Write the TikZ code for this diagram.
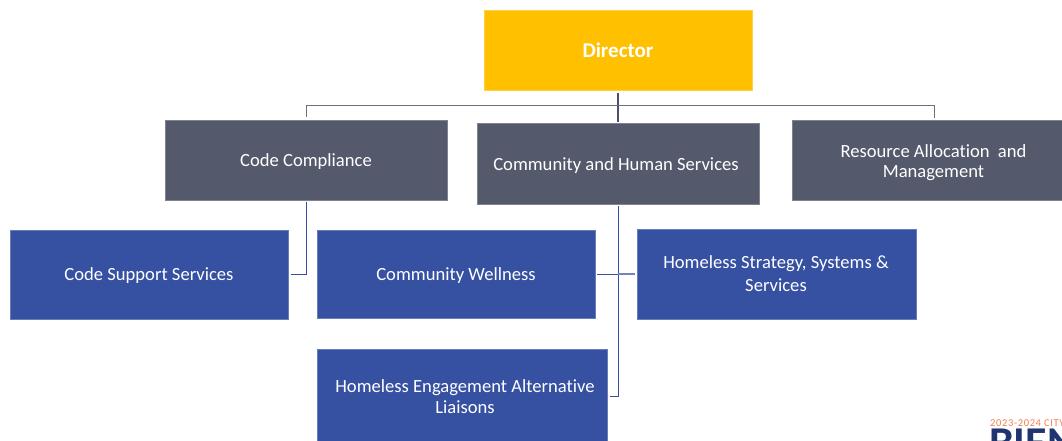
\documentclass[tikz,border=0pt]{standalone}
\usepackage{fontspec}
\setmainfont[Ligatures=NoCommon,RawFeature={-liga;-clig}]{Carlito}
\definecolor{dirc}{HTML}{FFC000}
\definecolor{slatec}{HTML}{545A6B}
\definecolor{bluec}{HTML}{3650A2}
\definecolor{linec}{HTML}{4A5068}
\definecolor{busc}{HTML}{6A7080}
\definecolor{orangec}{HTML}{F08050}
\definecolor{navyc}{HTML}{1F3570}
\tikzset{
  x=1pt,y=-1pt,
  box/.style={draw=#1!75!white,line width=0.5pt,fill=#1,inner sep=0pt,anchor=north west},
  lbl/.style={text=white,font=\fontsize{18.6}{21}\selectfont,align=center,inner sep=0pt},
  conn/.style={line width=1.1pt,draw=linec},
  busconn/.style={line width=0.9pt,draw=busc},
  bconn/.style={line width=0.9pt,draw=bluec},
}
\newcommand{\pbox}[6]{\node[box=#6,minimum width=#4pt,minimum height=#5pt] (#1) at (#2,#3) {};}
\begin{document}
\begin{tikzpicture}
\useasboundingbox (0,0) rectangle (1062,441);
\clip (0,0) rectangle (1062,441);
\fill[white] (0,0) rectangle (1062,441);
\pbox{dir}{484}{10.5}{267.5}{80}{dirc}
\pbox{code}{165}{120}{282}{80}{slatec}
\pbox{chs}{477}{123.5}{282}{80.5}{slatec}
\pbox{res}{792}{120.5}{284}{79.5}{slatec}
\pbox{sup}{10}{229.5}{277.5}{89.5}{bluec}
\pbox{well}{317}{229.5}{277.5}{88.5}{bluec}
\pbox{strat}{636.5}{228.5}{279.5}{90}{bluec}
\pbox{eng}{317}{349}{290}{116}{bluec}
\node[lbl,font=\fontsize{21}{24}\selectfont\bfseries] (dirt) at (618,50) {Director};
\node[lbl] (codet) at (306,161.5) {Code Compliance};
\node[lbl] (chst) at (616,165.5) {Community and Human Services};
\node[lbl,align=center] (rest) at (933.5,162.5) {Resource Allocation~~and\\[-1pt]Management};
\node[lbl] (supt) at (149,275.5) {Code Support Services};
\node[lbl] (wellt) at (456,275.5) {Community Wellness};
\node[lbl] (stratt) at (776,273.5) {Homeless Strategy, Systems \&\\[2pt]Services};
\node[lbl] (engt) at (465,396.5) {Homeless Engagement Alternative\\Liaisons};
\draw[conn] (618,93) -- (618,122);
\draw[busconn] (306.5,117) |- (934,105) -- (934,118);
\draw[bconn] (306.5,202) -- (306.5,274.5) -- (291,274.5);
\draw[bconn] (618,206) -- (618,396.5) -- (610,396.5);
\draw[bconn] (597,274) -- (618,274);
\draw[line width=1.1pt,draw=bluec!70!white] (618,274) -- (635,274);
\node[anchor=base west,inner sep=0pt,text=orangec,font=\fontsize{10.5}{12}\selectfont\addfontfeatures{LetterSpace=6}] (yr) at (990,426) {2023-2024 CITY};
\node[anchor=base west,inner sep=0pt,text=navyc,font=\fontsize{44}{44}\selectfont\bfseries] (bien) at (989,457) {BIEN};
\end{tikzpicture}
\end{document}
